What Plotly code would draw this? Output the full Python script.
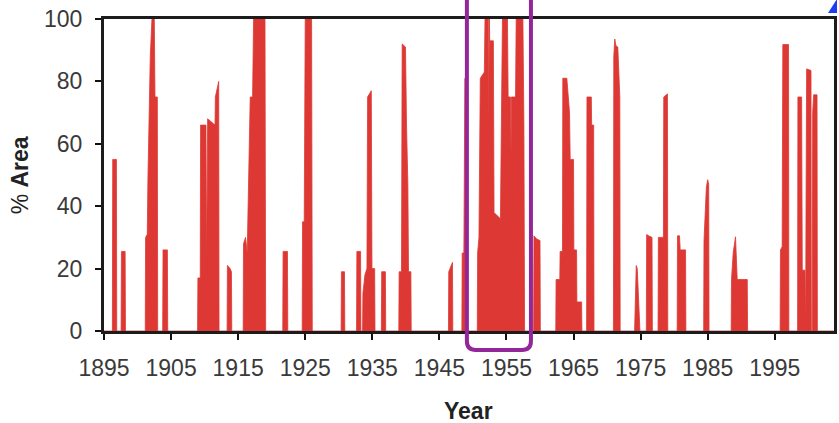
import plotly.graph_objects as go

# Percent of area (monthly-resolution episodes)
YEARS = [
    1895.0,
    1896.25, 1896.3, 1896.85, 1896.9,
    1897.55, 1897.6, 1898.15, 1898.2,
    1901.15, 1901.2, 1901.45, 1901.55, 1901.9, 1902.15, 1902.5, 1902.6, 1902.95, 1903.0,
    1903.75, 1903.8, 1904.45, 1904.5,
    1908.95, 1909.0, 1909.35, 1909.4, 1910.2, 1910.3, 1910.45, 1911.55, 1911.6, 1912.1, 1912.15,
    1913.35, 1913.4, 1913.8, 1914.0, 1914.05,
    1915.75, 1915.8, 1916.1, 1916.35, 1916.6, 1916.8, 1917.15, 1917.3, 1919.0, 1919.1,
    1921.65, 1921.7, 1922.35, 1922.4,
    1924.55, 1924.6, 1924.85, 1924.9, 1925.0, 1925.95, 1926.05,
    1930.35, 1930.4, 1930.85, 1930.9,
    1932.65, 1932.7, 1933.25, 1933.3,
    1933.55, 1933.6, 1933.9, 1934.2, 1934.3, 1934.85, 1934.95, 1935.35, 1935.4,
    1936.35, 1936.4, 1936.95, 1937.0,
    1938.95, 1939.0, 1939.35, 1939.45, 1939.95, 1940.1, 1940.3, 1940.4, 1940.75, 1940.8,
    1946.35, 1946.4, 1946.95, 1947.0,
    1948.35, 1948.4, 1948.65, 1948.8, 1949.1, 1949.15,
    1950.65, 1950.7, 1950.9, 1951.0, 1951.1, 1951.7, 1951.8, 1952.3, 1952.35, 1952.45,
    1952.5, 1953.05, 1953.15, 1953.6, 1954.1, 1954.4, 1955.15, 1955.25, 1955.6, 1955.68,
    1955.75, 1956.35, 1956.45, 1957.45, 1957.6, 1957.7,
    1959.05, 1959.1, 1959.5, 1960.0, 1960.05,
    1962.35, 1962.4, 1962.95, 1963.0, 1963.35, 1963.4, 1964.0, 1964.4, 1964.5, 1965.0,
    1965.05, 1965.45, 1965.5, 1966.2, 1966.25,
    1966.95, 1967.0, 1967.65, 1967.7, 1968.0, 1968.05,
    1970.95, 1971.0, 1971.15, 1971.3, 1971.6, 1971.9, 1971.95,
    1974.1, 1974.35, 1974.5, 1974.9,
    1975.85, 1975.9, 1976.2, 1976.7, 1976.75,
    1977.6, 1977.65, 1978.4, 1978.45, 1979.0, 1979.05,
    1980.45, 1980.5, 1980.8, 1980.9, 1981.7, 1981.75,
    1984.4, 1984.45, 1984.8, 1985.0, 1985.15, 1985.2,
    1988.5, 1988.55, 1988.8, 1989.15, 1989.4, 1990.9, 1990.95,
    1995.8, 1995.85, 1996.1, 1996.2, 1997.05, 1997.1,
    1998.4, 1998.45, 1999.0, 1999.1, 1999.5, 1999.55,
    1999.6, 1999.65, 1999.75, 2000.4, 2000.45,
    2000.6, 2000.65, 2000.8, 2001.3, 2001.35,
    2003.8,
]

AREA_PCT = [
    0,
    0, 55, 55, 0,
    0, 25.5, 25.5, 0,
    0, 30, 31, 49, 88, 100, 100, 75, 75, 0,
    0, 26, 26, 0,
    0, 17, 17, 66, 66, 20, 68, 66, 75, 80, 0,
    0, 21, 20, 19, 0,
    0, 28, 30, 25, 56, 75, 75, 100, 100, 0,
    0, 25.5, 25.5, 0,
    0, 35, 35, 80, 100, 100, 0,
    0, 19, 19, 0,
    0, 25.5, 25.5, 0,
    0, 12, 18, 20, 75, 77, 20, 20, 0,
    0, 19, 19, 0,
    0, 19, 19, 92, 91, 66, 47, 19, 19, 0,
    0, 19, 22, 0,
    0, 25, 25, 81, 81, 0,
    0, 25, 30, 56, 81, 83, 100, 100, 66, 100,
    93, 93, 38, 37, 36, 100, 100, 75, 75, 56,
    75, 75, 100, 100, 66, 0,
    0, 30.5, 29.5, 29, 0,
    0, 16.5, 16.5, 25.5, 25.5, 81, 81, 70, 55, 55,
    26, 26, 9.3, 9.3, 0,
    0, 75, 75, 66, 66, 0,
    0, 88, 93.6, 91.5, 91, 75, 0,
    0, 21, 20, 0,
    0, 30.9, 30.5, 30, 0,
    0, 30, 30, 75, 76, 0,
    0, 30.5, 30.5, 26, 26, 0,
    0, 29, 46, 48.5, 47, 0,
    0, 16.5, 25, 30.2, 16.5, 16.5, 0,
    0, 26, 27, 91.8, 91.8, 0,
    0, 75, 75, 19.5, 19.5, 0,
    0, 34, 84, 83.5, 0,
    0, 70, 75.7, 75.7, 0,
    0,
]

X_RANGE = [1895, 2003.83]
Y_RANGE = [0, 100]
X_TICKS = [1895, 1905, 1915, 1925, 1935, 1945, 1955, 1965, 1975, 1985, 1995]
X_TICK_LABELS = ["1895", "1905", "1915", "1925", "1935", "1945", "1955", "1965", "1975", "1985", "1995"]
Y_TICKS = [0, 20, 40, 60, 80, 100]
Y_TICK_LABELS = ["0", "20", "40", "60", "80", "100"]
HIGHLIGHT_YEARS = [1949.1, 1958.65]

RED = "#dd3833"
FONT = "Liberation Sans, Arial, sans-serif"

fig = go.Figure()
fig.add_trace(go.Scatter(
    x=YEARS, y=AREA_PCT, mode="lines",
    line=dict(color=RED, width=0.8),
    fill="tozeroy", fillcolor=RED,
    hoverinfo="x+y",
))

axis_common = dict(
    showgrid=False, zeroline=False,
    showline=True, mirror=True, linecolor="#1c1c1c", linewidth=3,
    ticks="outside", ticklen=6, tickwidth=2, tickcolor="#111111",
    tickfont=dict(family=FONT, size=23, color="#3a3a3a"),
)

fig.update_xaxes(range=X_RANGE, tickvals=X_TICKS, ticktext=X_TICK_LABELS,
                 ticklabelstandoff=8, **axis_common)
fig.update_yaxes(range=Y_RANGE, tickvals=Y_TICKS, ticktext=Y_TICK_LABELS,
                 ticklabelstandoff=8, **axis_common)

ML, MR, MT, MB = 104, 2, 19, 92
plot_w, plot_h = 839 - ML - MR, 423 - MT - MB

# highlight box (paper coords derived from the data range)
span = X_RANGE[1] - X_RANGE[0]
x0 = (HIGHLIGHT_YEARS[0] - X_RANGE[0]) / span
x1 = (HIGHLIGHT_YEARS[1] - X_RANGE[0]) / span
rx, ry = 9 / plot_w, 9 / plot_h
yb = -19 / plot_h
yt = 1.2
path = (f"M {x0},{yt} L {x0},{yb + ry} Q {x0},{yb} {x0 + rx},{yb} "
        f"L {x1 - rx},{yb} Q {x1},{yb} {x1},{yb + ry} L {x1},{yt}")

# small blue mark at the top-right corner
bx0, bx1 = (831 - ML) / plot_w, (840 - ML) / plot_w
by0, by1 = (423 - MB - 13) / plot_h, (423 - MB + 1) / plot_h
blue = f"M {bx0},{by0} L {bx1},{by1} L {bx1},{by0} Z"

fig.update_layout(
    width=839, height=423,
    margin=dict(l=ML, r=MR, t=MT, b=MB),
    plot_bgcolor="white", paper_bgcolor="white",
    showlegend=False,
    font=dict(family=FONT),
    shapes=[
        dict(type="path", xref="paper", yref="paper", path=path,
             line=dict(color="#93279a", width=4), layer="above"),
        dict(type="path", xref="paper", yref="paper", path=blue,
             fillcolor="#1f3cf5", line=dict(width=0), layer="above"),
    ],
    annotations=[
        dict(text="<b>Year</b>", x=(470 - ML) / plot_w, y=-0.256, xref="paper", yref="paper",
             xanchor="center", yanchor="middle", showarrow=False,
             font=dict(family=FONT, size=23, color="#222222")),
        dict(text="% <b>Area</b>", x=(20 - ML) / plot_w, y=0.5, xref="paper", yref="paper",
             xanchor="center", yanchor="middle", showarrow=False, textangle=-90,
             font=dict(family=FONT, size=23, color="#222222")),
    ],
)

fig.write_html(
    "out.html",
    config={"displayModeBar": False},
    post_script="document.body.style.margin='0';document.body.style.overflow='hidden';",
)
